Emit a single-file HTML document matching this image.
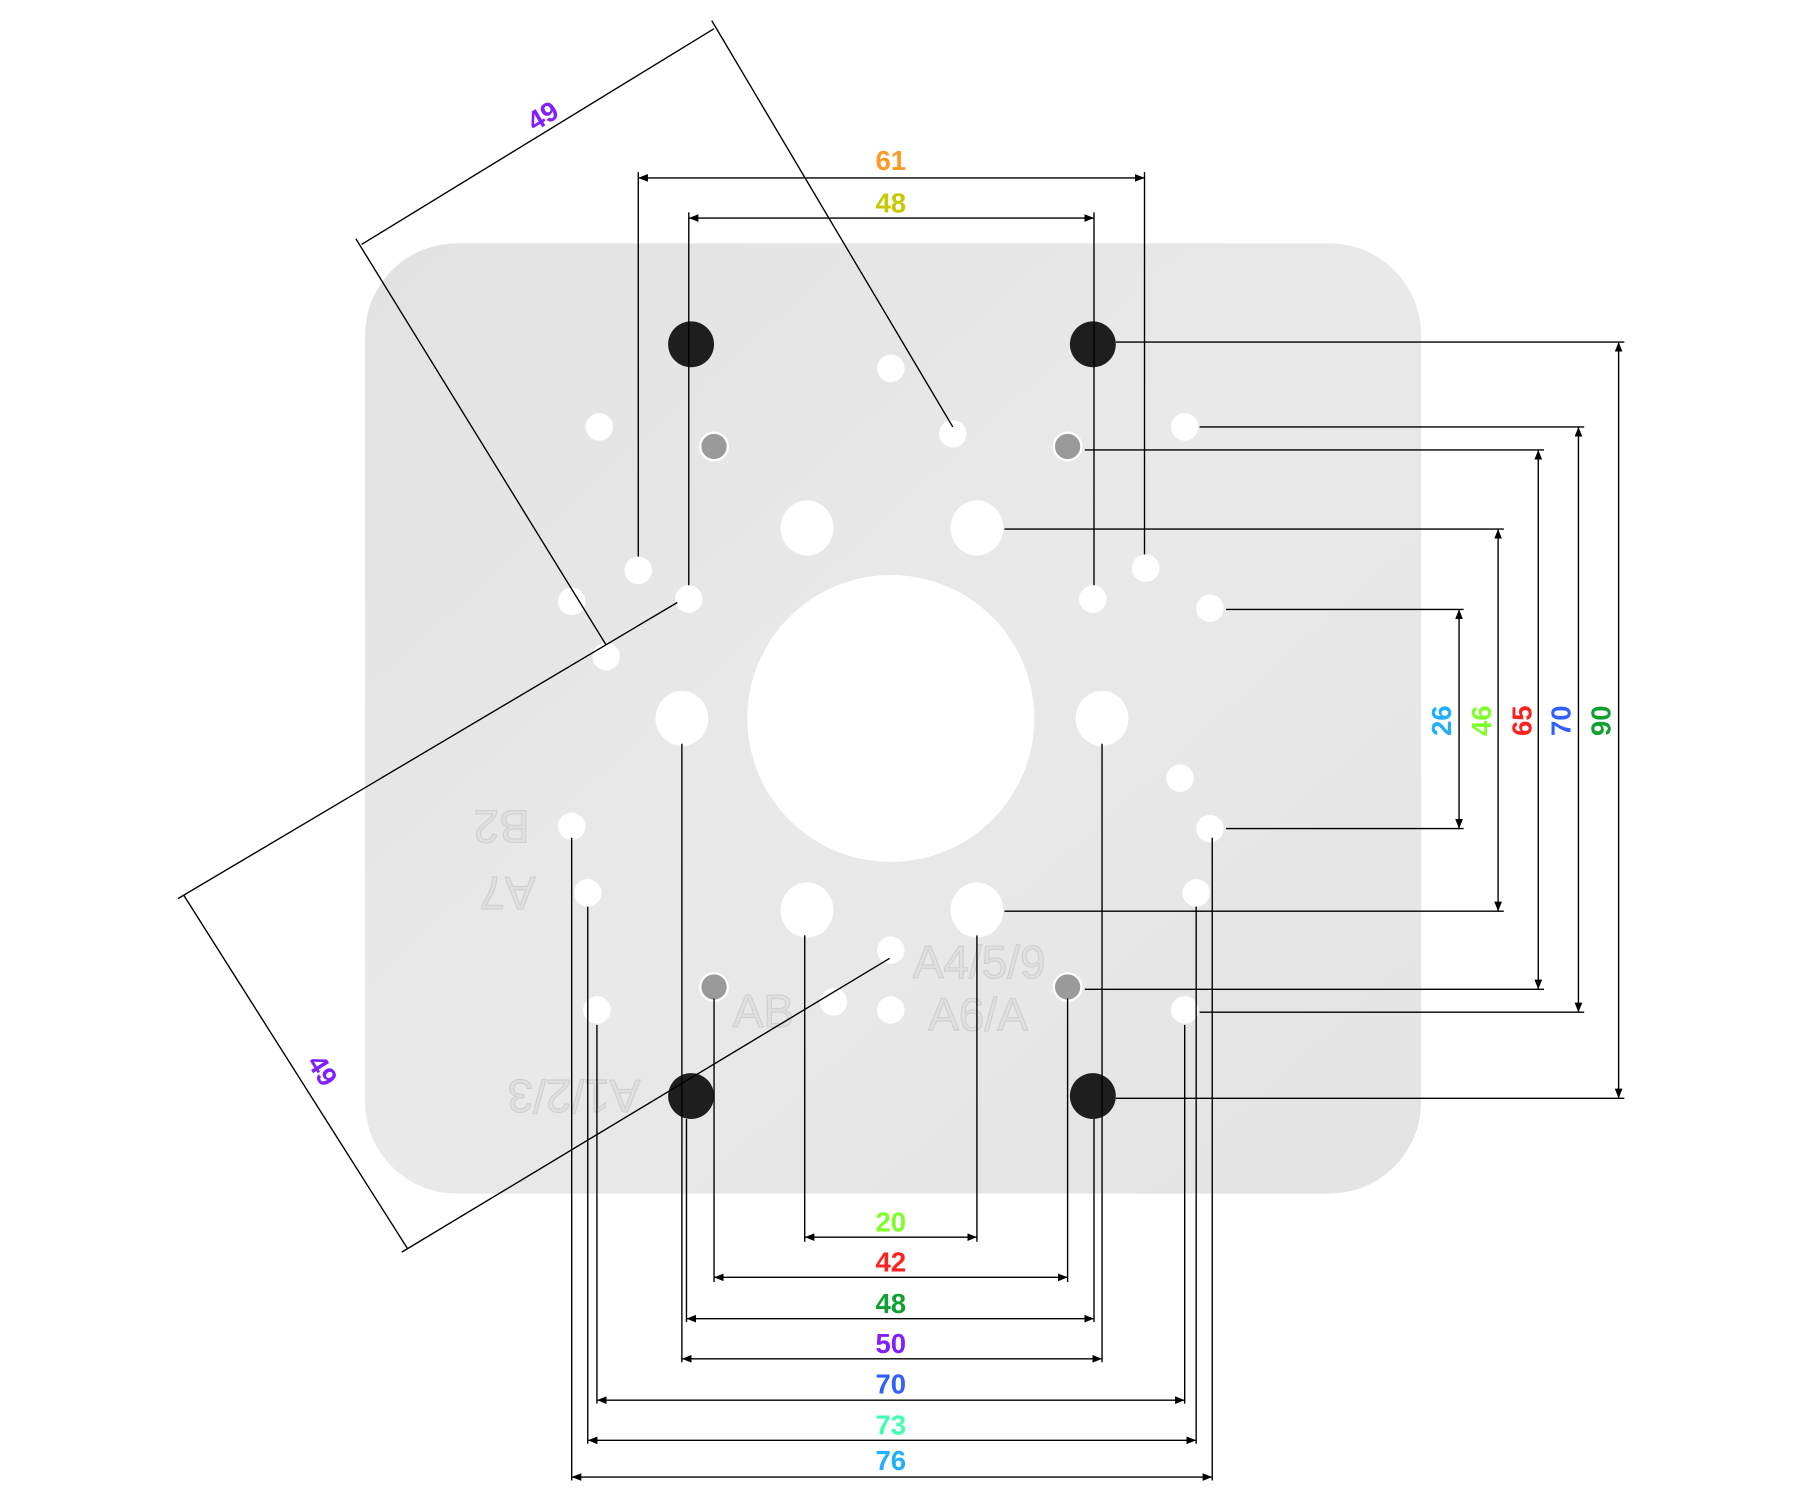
<!DOCTYPE html>
<html><head><meta charset="utf-8"><style>html,body{margin:0;padding:0;background:#fff}svg{display:block}</style></head>
<body>
<svg width="1800" height="1500" viewBox="0 0 1568 1307" preserveAspectRatio="none" xmlns="http://www.w3.org/2000/svg" font-family="Liberation Sans, sans-serif">
<defs>
<marker id="e" viewBox="0 0 10 10" refX="10" refY="5" markerWidth="7" markerHeight="7" orient="auto"><path d="M0,1 L10,5 L0,9 z" fill="#000"/></marker>
<marker id="s" viewBox="0 0 10 10" refX="0" refY="5" markerWidth="7" markerHeight="7" orient="auto"><path d="M10,1 L0,5 L10,9 z" fill="#000"/></marker>
<linearGradient id="g" x1="0" y1="0" x2="1" y2="1"><stop offset="0" stop-color="#e2e2e2"/><stop offset="0.5" stop-color="#e9e9e9"/><stop offset="1" stop-color="#e4e4e4"/></linearGradient>
</defs>
<rect x="318" y="212" width="920" height="828" rx="80" fill="url(#g)"/>
<!-- embossed text -->
<g fill="#e0e0e0" stroke="#d0d0d0" stroke-width="1" font-size="40" text-anchor="middle">
<text transform="translate(665 895)">AB</text>
<text transform="translate(852 898)">A6/A</text>
<text transform="translate(853 852)">A4/5/9</text>
<text transform="translate(437 706) rotate(180)">B2</text>
<text transform="translate(442 764) rotate(180)">A7</text>
<text transform="translate(500 941) rotate(180)">A1/2/3</text>
</g>
<!-- holes -->
<g fill="#1e1e1e"><circle cx="602" cy="300" r="20"/><circle cx="952" cy="300" r="20"/><circle cx="602" cy="955" r="20"/><circle cx="952" cy="955" r="20"/></g>
<g fill="#fff">
<circle cx="776" cy="321" r="12"/><circle cx="830" cy="378" r="12"/><circle cx="522" cy="372" r="12"/><circle cx="1032" cy="372" r="12"/>
<circle cx="556" cy="497" r="12"/><circle cx="600" cy="522" r="12"/><circle cx="498" cy="524" r="12"/><circle cx="528" cy="572" r="12"/>
<circle cx="952" cy="522" r="12"/><circle cx="998" cy="495" r="12"/><circle cx="1054" cy="530" r="12"/><circle cx="1028" cy="678" r="12"/>
<circle cx="1054" cy="722" r="12"/><circle cx="498" cy="720" r="12"/><circle cx="512" cy="778" r="12"/><circle cx="1042" cy="778" r="12"/>
<circle cx="776" cy="828" r="12"/><circle cx="776" cy="880" r="12"/><circle cx="726" cy="873" r="12"/><circle cx="520" cy="880" r="12"/><circle cx="1032" cy="880" r="12"/>
<ellipse cx="703" cy="460" rx="23" ry="24"/><ellipse cx="851" cy="460" rx="23" ry="24"/><ellipse cx="594" cy="626" rx="23" ry="24"/><ellipse cx="960" cy="626" rx="23" ry="24"/><ellipse cx="703" cy="793" rx="23" ry="24"/><ellipse cx="851" cy="793" rx="23" ry="24"/>
<circle cx="776" cy="626" r="125"/>
</g>
<g fill="#9a9a9a" stroke="#fff" stroke-width="2"><circle cx="622" cy="389" r="12"/><circle cx="930" cy="389" r="12"/><circle cx="622" cy="860" r="12"/><circle cx="930" cy="860" r="12"/></g>
<!-- dimension lines -->
<g stroke="#000" stroke-width="1.2" fill="none">
<path d="M556 150V485M997 150V483M600 185V510M953 185V510"/>
<path d="M972 298H1415M972 957H1415M1045 372H1380M1045 882H1380M945 392H1345M945 862H1345M875 461H1310M875 794H1310M1068 531H1275M1068 722H1275"/>
<path d="M701 815V1082M851 815V1082M622 870V1117M930 870V1117M598 975V1152M953 975V1152M594 648V1187M960 648V1187M520 893V1223M1032 893V1223M512 790V1258M1042 790V1258M498 730V1290M1056 730V1290"/>
<path d="M620 18L830 372M310 208L528 562M155 783L590 525M350 1091L775 835"/>
<path d="M315 213L622 25M160 780L355 1088"/>
</g>
<g stroke="#000" stroke-width="1.2" fill="none" marker-start="url(#s)" marker-end="url(#e)">
<path d="M556 155H997"/><path d="M600 190H953"/>
<path d="M1410 298V957"/><path d="M1375 372V882"/><path d="M1340 392V862"/><path d="M1305 461V794"/><path d="M1271 531V722"/>
<path d="M701 1078H851"/><path d="M622 1113H930"/><path d="M598 1149H953"/><path d="M594 1184H960"/><path d="M520 1220H1032"/><path d="M512 1255H1042"/><path d="M498 1287H1056"/>
</g>
<g font-weight="bold" font-size="24" text-anchor="middle">
<text x="776" y="148" fill="#ff9a2a">61</text>
<text x="776" y="185" fill="#c8c800">48</text>
<text x="776" y="1073" fill="#7fff2a">20</text>
<text x="776" y="1108" fill="#ff2020">42</text>
<text x="776" y="1144" fill="#10a030">48</text>
<text x="776" y="1179" fill="#8020ff">50</text>
<text x="776" y="1214" fill="#3060ff">70</text>
<text x="776" y="1250" fill="#40ffb0">73</text>
<text x="776" y="1281" fill="#20b0ff">76</text>
<text transform="translate(1264 628) rotate(-90)" fill="#20b0ff">26</text>
<text transform="translate(1299 628) rotate(-90)" fill="#7fff2a">46</text>
<text transform="translate(1334 628) rotate(-90)" fill="#ff2020">65</text>
<text transform="translate(1368 628) rotate(-90)" fill="#3060ff">70</text>
<text transform="translate(1403 628) rotate(-90)" fill="#10a030">90</text>
<text transform="translate(477 108) rotate(-31)" fill="#8020ff">49</text>
<text transform="translate(274 937) rotate(58)" fill="#8020ff">49</text>
</g>
</svg>
</body></html>
